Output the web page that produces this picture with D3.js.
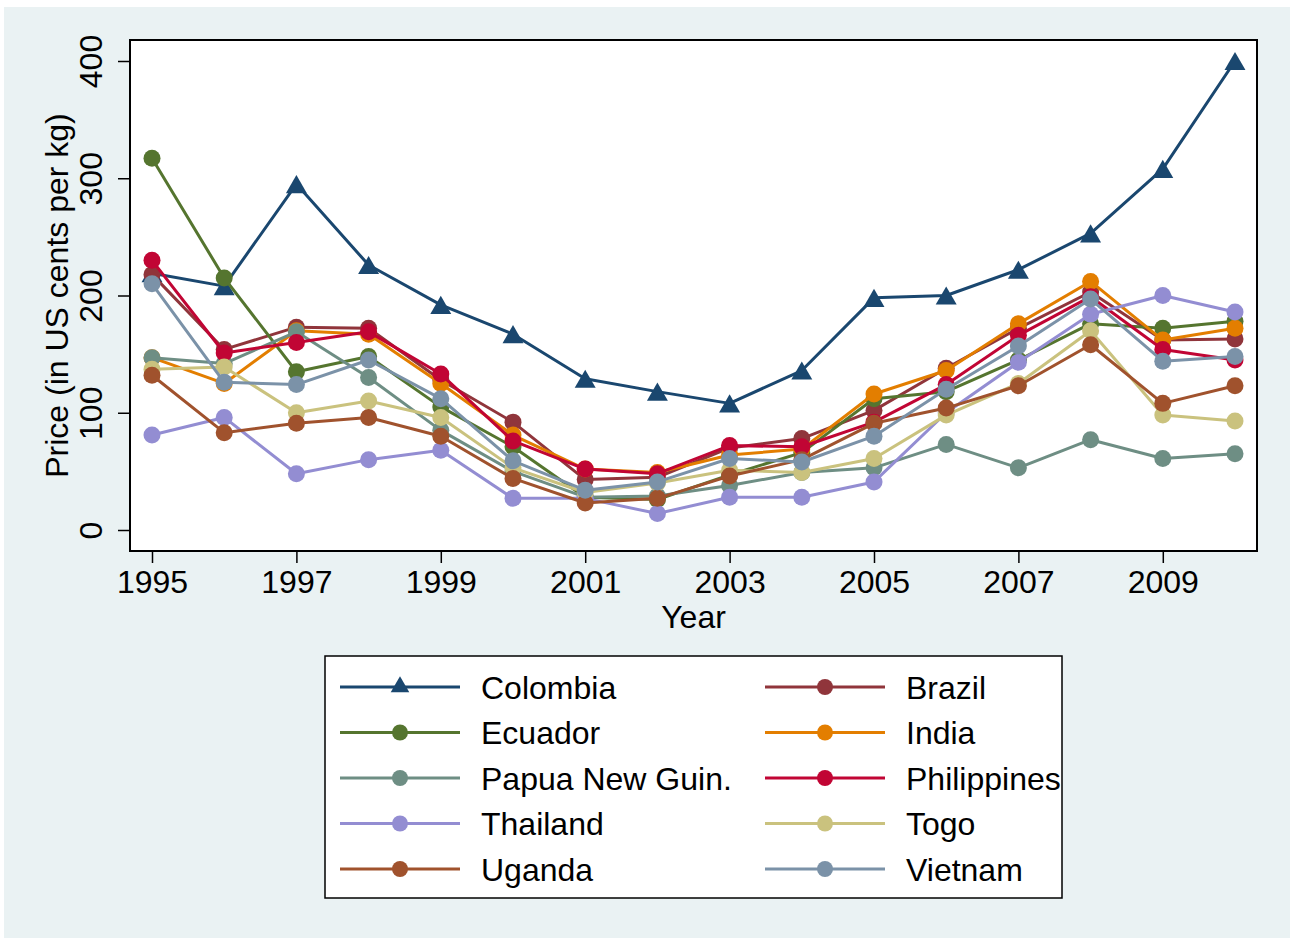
<!DOCTYPE html>
<html>
<head>
<meta charset="utf-8">
<script src="https://cdnjs.cloudflare.com/ajax/libs/d3/7.8.5/d3.min.js"></script>
<style>
  html, body { margin: 0; padding: 0; background: #ffffff; }
  svg { display: block; font-family: "Liberation Sans", Arial, sans-serif; }
</style>
</head>
<body>
<svg id="chart" width="1290" height="938"></svg>
<script>
const years = [1995,1996,1997,1998,1999,2000,2001,2002,2003,2004,2005,2006,2007,2008,2009,2010];
const yTicks = [0,100,200,300,400];
const xTicks = [1995,1997,1999,2001,2003,2005,2007,2009];

const colombia    = [219,208,295,226,192,167,129,118,108,136,198,200,222,253,308,400];
const brazil      = [218,154,173,172,128, 92, 43, 45, 70, 78,102,138,172,203,162,163];
const ecuador     = [317,215,135,148,105, 71, 28, 26, 47, 66,112,118,145,176,172,178];
const india       = [147,125,170,167,125, 81, 52, 49, 64, 69,116,136,176,212,162,172];
const papua       = [147,142,169,130, 85, 50, 28, 29, 38, 49, 53, 73, 53, 77, 61, 65];
const philippines = [230,151,160,169,133, 76, 52, 48, 72, 71, 92,124,166,199,154,145];
const thailand    = [ 81, 96, 48, 60, 68, 27, 27, 14, 28, 28, 41,100,143,184,200,186];
const togo        = [137,139,100,110, 96, 53, 32, 40, 51, 49, 61, 98,125,170, 98, 93];
const uganda      = [132, 83, 91, 96, 80, 44, 23, 27, 46, 60, 91,104,123,158,108,123];
const vietnam     = [210,126,124,145,112, 59, 34, 41, 61, 58, 80,120,157,197,144,148];

const seriesNames = ["Colombia","Brazil","Ecuador","India","Papua New Guin.","Philippines","Thailand","Togo","Uganda","Vietnam"];
const seriesValues = [colombia,brazil,ecuador,india,papua,philippines,thailand,togo,uganda,vietnam];
const seriesColors = ["#1a476f","#90353b","#55752f","#e37e00","#6e8e84","#c10534","#938dd2","#cac27e","#a0522d","#7b92a8"];
const seriesShapes = ["triangle","circle","circle","circle","circle","circle","circle","circle","circle","circle"];

const svg = d3.select("#chart");
const FS = 32;

// outer background
svg.append("rect").attr("x",4).attr("y",7).attr("width",1286).attr("height",931).attr("fill","#eaf2f3");

const plot = {left:130, top:40, right:1257, bottom:551};
svg.append("rect").attr("x",plot.left).attr("y",plot.top)
  .attr("width",plot.right-plot.left).attr("height",plot.bottom-plot.top)
  .attr("fill","#ffffff");

const x = d3.scaleLinear().domain([1995,2010]).range([152,1235]);
const y = d3.scaleLinear().domain([0,400]).range([530,61]);

// Y axis
const yAxis = d3.axisLeft(y).tickValues(yTicks).tickSize(12).tickPadding(0).tickFormat(d3.format("d"));
const gy = svg.append("g").attr("transform",`translate(${plot.left},0)`).call(yAxis);
gy.select(".domain").remove();
gy.selectAll(".tick line").attr("stroke","#000").attr("stroke-width",1.5);
gy.selectAll(".tick text").remove();
gy.selectAll(".tick").append("text")
  .attr("transform","translate(-28,0) rotate(-90)")
  .attr("text-anchor","middle")
  .attr("fill","#000")
  .style("font-size",FS+"px")
  .text(d => d);

// X axis
const xAxis = d3.axisBottom(x).tickValues(xTicks).tickSize(12).tickPadding(0).tickFormat(d3.format("d"));
const gx = svg.append("g").attr("transform",`translate(0,${plot.bottom})`).call(xAxis);
gx.select(".domain").remove();
gx.selectAll(".tick line").attr("stroke","#000").attr("stroke-width",1.5);
gx.selectAll(".tick text").remove();
gx.selectAll(".tick").append("text")
  .attr("y",42)
  .attr("text-anchor","middle")
  .attr("fill","#000")
  .style("font-size",FS+"px")
  .text(d => d);

// axis titles
svg.append("text").attr("x",(plot.left+plot.right)/2).attr("y",628)
  .attr("text-anchor","middle").style("font-size",FS+"px").attr("fill","#000").text("Year");
svg.append("text").attr("transform",`translate(68,${(plot.top+plot.bottom)/2}) rotate(-90)`)
  .attr("text-anchor","middle").style("font-size",FS+"px").attr("fill","#000")
  .text("Price (in US cents per kg)");

// series
const line = d3.line().x((d,i) => x(years[i])).y(d => y(d));
const triSize = 190;
const triSym = d3.symbol().type(d3.symbolTriangle).size(triSize);
// shift so the triangle's bounding box (not centroid) sits on the point
const triSide = Math.sqrt(4 * triSize / Math.sqrt(3));
const triOffset = (triSide * Math.sqrt(3) / 2) / 6;

seriesValues.forEach((vals, si) => {
  const g = svg.append("g");
  g.append("path").datum(vals).attr("d",line)
    .attr("fill","none").attr("stroke",seriesColors[si]).attr("stroke-width",3)
    .attr("stroke-linejoin","round");
  if (seriesShapes[si] === "triangle") {
    g.selectAll("path.m").data(vals).enter().append("path").attr("class","m")
      .attr("d",triSym)
      .attr("transform",(d,i) => `translate(${x(years[i])},${y(d) + triOffset})`)
      .attr("fill",seriesColors[si]);
  } else {
    g.selectAll("circle").data(vals).enter().append("circle")
      .attr("cx",(d,i) => x(years[i])).attr("cy",d => y(d)).attr("r",8.5)
      .attr("fill",seriesColors[si]);
  }
});

// plot frame
svg.append("rect").attr("x",plot.left).attr("y",plot.top)
  .attr("width",plot.right-plot.left).attr("height",plot.bottom-plot.top)
  .attr("fill","none").attr("stroke","#000").attr("stroke-width",2);

// legend
const leg = svg.append("g");
leg.append("rect").attr("x",325).attr("y",656).attr("width",737).attr("height",242)
  .attr("fill","#ffffff").attr("stroke","#000").attr("stroke-width",1.5);
seriesNames.forEach((name, si) => {
  const col = si % 2, row = Math.floor(si / 2);
  const x0 = col === 0 ? 340 : 765;
  const yy = 687 + row * 45.5;
  leg.append("line").attr("x1",x0).attr("x2",x0+120).attr("y1",yy).attr("y2",yy)
    .attr("stroke",seriesColors[si]).attr("stroke-width",3);
  if (seriesShapes[si] === "triangle") {
    leg.append("path").attr("d",d3.symbol().type(d3.symbolTriangle).size(150)())
      .attr("transform",`translate(${x0+60},${yy})`).attr("fill",seriesColors[si]);
  } else {
    leg.append("circle").attr("cx",x0+60).attr("cy",yy).attr("r",8).attr("fill",seriesColors[si]);
  }
  leg.append("text").attr("x",x0+141).attr("y",yy+11.5)
    .style("font-size",FS+"px").attr("fill","#000").text(name);
});
</script>
</body>
</html>
